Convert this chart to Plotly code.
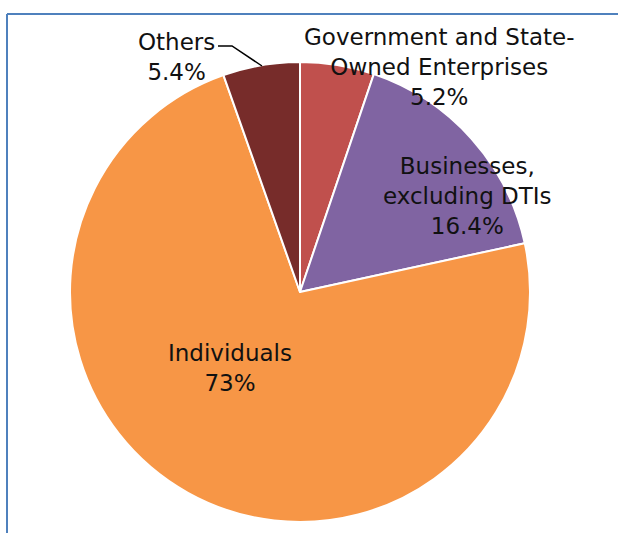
import plotly.graph_objects as go

# Slice data, clockwise from 12 o'clock
categories = ["Government and State-Owned Enterprises", "Businesses, excluding DTIs", "Individuals", "Others"]
shares = [5.2, 16.4, 73.0, 5.4]
share_labels = ["5.2%", "16.4%", "73%", "5.4%"]
label_lines = [
    ["Government and State-", "Owned Enterprises"],
    ["Businesses,", "excluding DTIs"],
    ["Individuals"],
    ["Others"],
]
colors = ["#C0504D", "#8064A2", "#F79646", "#772C2A"]

W, H = 618, 533
FONT = "DejaVu Sans"

# Pie placement (pixels): centre and radius
cx, cy, r = 300, 292, 230

fig = go.Figure(go.Pie(
    labels=categories,
    values=shares,
    sort=False,
    direction="clockwise",
    rotation=0,
    marker=dict(colors=colors, line=dict(color="white", width=2)),
    textinfo="none",
    hoverinfo="label+percent",
    showlegend=False,
    domain=dict(x=[(cx - r) / W, (cx + r) / W],
                y=[(H - cy - r) / H, (H - cy + r) / H]),
))

# Label anchor points in pixels (centre of text block)
label_pos = [(439, 67), (467, 196), (230, 368), (176, 57)]

annotations = []
for lines, pct, (px, py) in zip(label_lines, share_labels, label_pos):
    annotations.append(dict(
        text="<br>".join(lines + [pct]),
        x=px / W, y=1 - py / H, xref="paper", yref="paper",
        xanchor="center", yanchor="middle", showarrow=False,
        align="center",
        font=dict(family=FONT, size=23, color="#111111"),
    ))

shapes = [
    # chart frame (left and top edges)
    dict(type="line", xref="paper", yref="paper",
         x0=7 / W, x1=7 / W, y0=0, y1=1 - 14 / H,
         line=dict(color="#4F81BD", width=2)),
    dict(type="line", xref="paper", yref="paper",
         x0=7 / W, x1=1, y0=1 - 14 / H, y1=1 - 14 / H,
         line=dict(color="#4F81BD", width=2)),
    # leader line for "Others"
    dict(type="path", xref="paper", yref="paper",
         path=f"M {218 / W},{1 - 46 / H} L {232 / W},{1 - 46 / H} L {262 / W},{1 - 66 / H}",
         line=dict(color="black", width=1.5)),
]

fig.update_layout(
    width=W, height=H,
    margin=dict(l=0, r=0, t=0, b=0),
    paper_bgcolor="white",
    plot_bgcolor="white",
    annotations=annotations,
    shapes=shapes,
)

fig.write_html("out.html")
